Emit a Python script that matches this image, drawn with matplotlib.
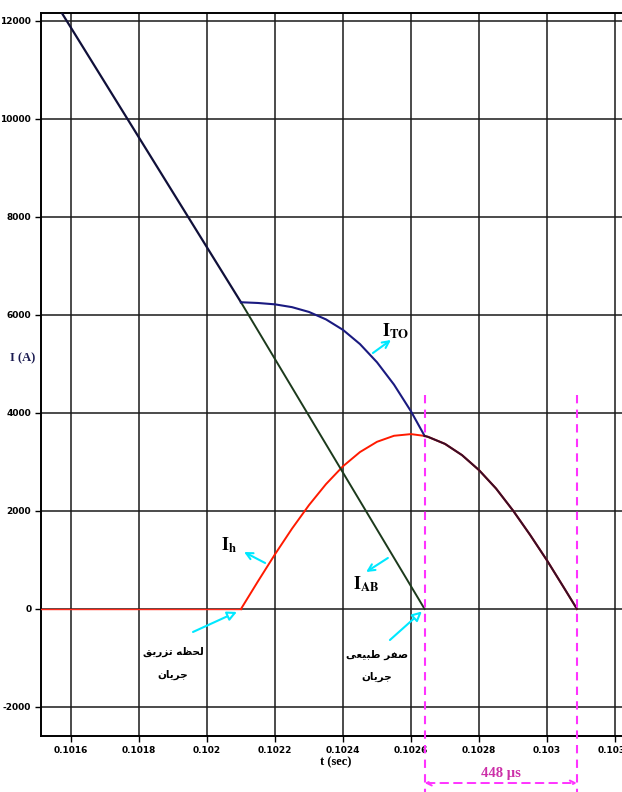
import matplotlib
matplotlib.use("Agg")
import matplotlib.pyplot as plt
from matplotlib.patches import FancyArrowPatch

plt.rcParams['mathtext.fontset'] = 'stix'

# fault current I_AB, straight ramp down to its natural zero
t_ab = [0.10157, 0.1021, 0.10264]
i_ab = [12200, 6260, 0]

# injected current I_h (half sine starting at the injection instant)
t_h = [0.10151, 0.1021, 0.10215, 0.1022, 0.10225, 0.1023, 0.10235, 0.1024,
       0.10245, 0.1025, 0.10255, 0.1026, 0.10264, 0.10265, 0.1027, 0.10275,
       0.1028, 0.10285, 0.1029, 0.10295, 0.103, 0.10305, 0.103088]
i_h = [0, 0, 565, 1116, 1639, 2120, 2548, 2913, 3203, 3412, 3535, 3569, 3532,
       3513, 3369, 3140, 2834, 2459, 2009, 1514, 990, 430, 0]

# breaker current I_TO = I_AB + I_h
t_to = [0.1021, 0.10215, 0.1022, 0.10225, 0.1023, 0.10235, 0.1024, 0.10245,
        0.1025, 0.10255, 0.1026, 0.10264, 0.10265, 0.1027, 0.10275, 0.1028,
        0.10285, 0.1029, 0.10295, 0.103, 0.10305, 0.103088]
i_to = [6260, 6245, 6217, 6160, 6062, 5910, 5696, 5406, 5035, 4579, 4033, 3532,
        3513, 3369, 3140, 2834, 2459, 2009, 1514, 990, 430, 0]

t_inj = 0.1021
t_zero = 0.10264
t_end = 0.103088

xticks = [0.1016, 0.1018, 0.1020, 0.1022, 0.1024, 0.1026, 0.1028, 0.1030, 0.1032]
xlabels = ['0.1016', '0.1018', '0.102', '0.1022', '0.1024', '0.1026', '0.1028', '0.103', '0.1032']
yticks = [-2000, 0, 2000, 4000, 6000, 8000, 10000, 12000]

fig = plt.figure(figsize=(6.22, 7.92), dpi=100)
ax = fig.add_axes([0.0659, 0.0707, 0.947, 0.9129])
ax.set_xlim(0.101512, 0.103244)
ax.set_ylim(-2592, 12163)

ax.grid(True, color='#1a1a1a', lw=1.1)
ax.set_axisbelow(True)
ax.set_xticks(xticks)
ax.set_xticklabels(xlabels)
ax.set_yticks(yticks)
ax.set_yticklabels([str(v) for v in yticks])
ax.tick_params(axis='both', length=4, width=1, direction='out', pad=3)
for lab in ax.get_xticklabels() + ax.get_yticklabels():
    lab.set_family(['Liberation Sans Narrow', 'DejaVu Sans'])
    lab.set_fontweight('bold')
    lab.set_fontsize(6.5)
ax.tick_params(axis='x', pad=3)
for s in ['top', 'left', 'bottom']:
    ax.spines[s].set_linewidth(1.4)
ax.spines['right'].set_visible(False)

# split index at the natural zero of I_AB
k = t_to.index(t_zero)
ax.plot(t_h[:2], i_h[:2], color='#ff2a1a', lw=1.0, zorder=3)
ax.plot(t_h[1:], i_h[1:], color='#ff1a00', lw=1.4, zorder=3)
ax.plot(t_ab[:2], i_ab[:2], color='#10103a', lw=1.6, zorder=4)
ax.plot(t_ab[1:], i_ab[1:], color='#1c3a1c', lw=1.4, zorder=4)
ax.plot(t_to[:k + 1], i_to[:k + 1], color='#1a1a80', lw=1.5, zorder=5)
ax.plot(t_to[k:], i_to[k:], color='#3a0d28', lw=1.5, zorder=5)

serif = 'Liberation Serif'
ax.set_xlabel('t (sec)', family=serif, fontweight='bold', fontsize=9, labelpad=1)
fig.text(0.036, 1 - 358 / 792, 'I (A)', family=serif, fontweight='bold',
         fontsize=9, color='#1a1a50', ha='center', va='center')

cyan = '#00e8ff'
def label_arrow(tail, head):
    ax.annotate('', xy=head, xytext=tail,
                arrowprops=dict(arrowstyle='->', color=cyan, lw=1.5,
                                mutation_scale=12, shrinkA=0, shrinkB=0))

ax.text(0.102515, 5660, r'$\mathbf{I_{TO}}$', fontsize=13, ha='left', va='center')
label_arrow((0.102488, 5224), (0.102541, 5490))
ax.text(0.102042, 1310, r'$\mathbf{I_{h}}$', fontsize=13, ha='left', va='center')
label_arrow((0.102171, 939), (0.102109, 1163))
ax.text(0.102430, 500, r'$\mathbf{I_{AB}}$', fontsize=13, ha='left', va='center')
label_arrow((0.102532, 1041), (0.102468, 755))

def hollow_arrow(tail, head):
    a = FancyArrowPatch(tail, head, arrowstyle='-|>', mutation_scale=14,
                        color=cyan, lw=1.5, zorder=6, shrinkA=0, shrinkB=0)
    a.set_facecolor('white')
    a.set_edgecolor(cyan)
    ax.add_patch(a)

hollow_arrow((0.101959, -469), (t_inj - 0.000012, -60))
hollow_arrow((0.102538, -633), (t_zero - 0.000008, -50))

# Persian captions written in visual order with presentation forms
inj_1 = '\uFED6\uFBFE\uFEAD\uFEB0\uFE97 \uFEEA\uFEC8\uFEA4\uFEDF'
cur = '\uFEE5\uFE8E\uFBFE\uFEAE\uFE9F'
zero_1 = '\uFBFD\uFECC\uFBFF\uFE92\uFEC3 \uFEAE\uFED4\uFEBB'
fa = dict(family='DejaVu Sans', fontweight='bold', fontsize=7.5, ha='center', va='center')
ax.text(0.10190, -880, inj_1, **fa)
ax.text(0.10190, -1350, cur, **fa)
ax.text(0.10250, -940, zero_1, **fa)
ax.text(0.10250, -1390, cur, **fa)

# 448 us window between natural zero and end of the injected pulse
mag = '#ff33ff'
for tt in [t_zero, t_end]:
    ax.plot([tt, tt], [4370, -3800], color=mag, lw=1.5, ls=(0, (4, 3)),
            clip_on=False, zorder=6)
y_dim = -2592 - (783 - 736) * 2000 / 98
ax.annotate('', xy=(t_end, y_dim), xytext=(t_zero, y_dim), xycoords='data',
            annotation_clip=False,
            arrowprops=dict(arrowstyle='<->', color=mag, lw=1.4, ls=(0, (4, 3)),
                            mutation_scale=9, shrinkA=0, shrinkB=0))
ax.text((t_zero + t_end) / 2, y_dim + 200, '448 \u00b5s', family=serif,
        fontweight='bold', fontsize=10.5, color='#cc2fa8', ha='center',
        va='center', clip_on=False)

fig.savefig('out.png', dpi=100)
